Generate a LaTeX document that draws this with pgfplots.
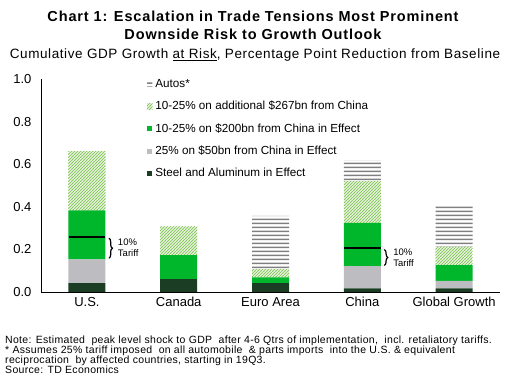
\documentclass[border=0pt]{standalone}
\usepackage{pgfplots}
\pgfplotsset{compat=1.18}
\usepackage{fontspec}
\setmainfont{Liberation Sans}
\usetikzlibrary{patterns,decorations.pathreplacing}
\definecolor{steel}{HTML}{1B3D24}
\definecolor{grayb}{HTML}{BDBDC1}
\definecolor{greenb}{HTML}{00B62A}
\definecolor{hatchg}{HTML}{8CC864}
\definecolor{autog}{HTML}{808080}
\pgfdeclarepatternformonly{hlinesx}{\pgfpointorigin}{\pgfqpoint{10pt}{4pt}}{\pgfqpoint{10pt}{4pt}}{%
  \pgfpathrectangle{\pgfpoint{-1pt}{1.2pt}}{\pgfpoint{12pt}{1.7pt}}\pgfusepath{fill}}
\pgfdeclarepatternformonly{diagx}{\pgfqpoint{-1pt}{-1pt}}{\pgfqpoint{4pt}{4pt}}{\pgfqpoint{3pt}{3pt}}{%
  \pgfsetlinewidth{1.0pt}\pgfpathmoveto{\pgfqpoint{-1pt}{-1pt}}\pgfpathlineto{\pgfqpoint{4pt}{4pt}}\pgfusepath{stroke}}
\begin{document}
\begin{tikzpicture}
\useasboundingbox (0pt,0pt) rectangle (517pt,385pt);
\node[font=\fontsize{14.5}{17}\selectfont\bfseries\addfontfeatures{LetterSpace=6}] at (253pt,369pt) {Chart 1: Escalation in Trade Tensions Most Prominent};
\node[font=\fontsize{14.5}{17}\selectfont\bfseries\addfontfeatures{LetterSpace=6}] at (253pt,351pt) {Downside Risk to Growth Outlook};
\node[font=\fontsize{13.5}{16}\selectfont\addfontfeatures{LetterSpace=4.4}] at (255pt,330pt) {Cumulative GDP Growth \underline{at Risk}, Percentage Point Reduction from Baseline};
\begin{axis}[
  at={(41pt,93pt)}, anchor=south west,
  scale only axis, width=459pt, height=212.5pt,
  ybar stacked, bar width=37pt,
  xmin=-0.5, xmax=4.5, ymin=0, ymax=1.0,
  axis x line=bottom, axis y line=left,
  axis line style={-, line width=0.9pt, black},
  xtick={0,1,2,3,4},
  xticklabels={U.S.,Canada,Euro Area,China,Global Growth},
  ytick={0,0.2,0.4,0.6,0.8,1.0},
  yticklabel style={/pgf/number format/fixed,/pgf/number format/fixed zerofill,/pgf/number format/precision=1},
  /pgf/number format/assume math mode=true,
  major tick length=0pt,
  tick label style={font=\fontsize{13}{15}\selectfont},
  xticklabel style={yshift=-2pt},
  yticklabel style={xshift=-6pt},
  legend cell align=left,
  reverse legend,
  legend style={at={(rel axis cs:0.231,1.01)}, anchor=north west, draw=none, fill=none,
    font=\fontsize{11.7}{14}\selectfont, row sep=8.2pt, inner sep=0pt,
    nodes={inner xsep=3pt}},
  legend image code/.code={\path[#1,draw=none] (0pt,-2.6pt) rectangle (5.2pt,2.6pt);},
  clip=false,
]
\addplot[fill=steel, draw=none] coordinates {(0,0.042) (1,0.06) (2,0.042) (3,0.017) (4,0.017)};
\addlegendentry{Steel and Aluminum in Effect}
\addplot[fill=grayb, draw=none] coordinates {(0,0.112) (1,0) (2,0) (3,0.105) (4,0.035)};
\addlegendentry{25\% on \$50bn from China in Effect}
\addplot[fill=greenb, draw=none] coordinates {(0,0.23) (1,0.113) (2,0.027) (3,0.203) (4,0.075)};
\addlegendentry{10-25\% on \$200bn from China in Effect}
\addplot[draw=none, pattern=diagx, pattern color=hatchg] coordinates {(0,0.279) (1,0.136) (2,0.039) (3,0.197) (4,0.085)};
\addlegendentry{10-25\% on additional \$267bn from China}
\addplot[draw=none, pattern=hlinesx, pattern color=autog] coordinates {(0,0) (1,0) (2,0.25) (3,0.098) (4,0.196)};
\addlegendentry{Autos*}
\end{axis}
\begin{axis}[
  at={(41pt,93pt)}, anchor=south west,
  scale only axis, width=459pt, height=212.5pt,
  xmin=-0.5, xmax=4.5, ymin=0, ymax=1.0,
  hide axis, clip=false,
]
\addplot[black, line width=2pt] coordinates {(-0.2,0.257) (0.2,0.257)};
\addplot[black, line width=2pt] coordinates {(2.8,0.207) (3.2,0.207)};
\draw[decorate, decoration={brace, amplitude=3.5pt}, line width=1.2pt] (axis cs:0.24,0.253) -- (axis cs:0.24,0.159);
\draw[decorate, decoration={brace, amplitude=3.5pt}, line width=1.2pt] (axis cs:3.24,0.20) -- (axis cs:3.24,0.125);
\node[anchor=west, align=left, font=\fontsize{9.5}{11}\selectfont] at (axis cs:0.3,0.206) {10\%\\Tariff};
\node[anchor=west, align=left, font=\fontsize{9.5}{11}\selectfont] at (axis cs:3.3,0.163) {10\%\\Tariff};
\end{axis}
\node[anchor=north west, align=left, font=\fontsize{10.5}{10}\selectfont\addfontfeatures{LetterSpace=3}, inner sep=0pt] at (5pt,49pt) {Note: Estimated\ \ peak level shock to GDP\ \ after 4-6 Qtrs of implementation,\ \ incl. retaliatory tariffs.\\
* Assumes 25\% tariff imposed\ \ on all automobile\ \ \& parts imports\ \ into the U.S. \& equivalent\\
reciprocation\ \ by affected countries, starting in 19Q3.\\
Source: TD Economics};
\end{tikzpicture}
\end{document}
